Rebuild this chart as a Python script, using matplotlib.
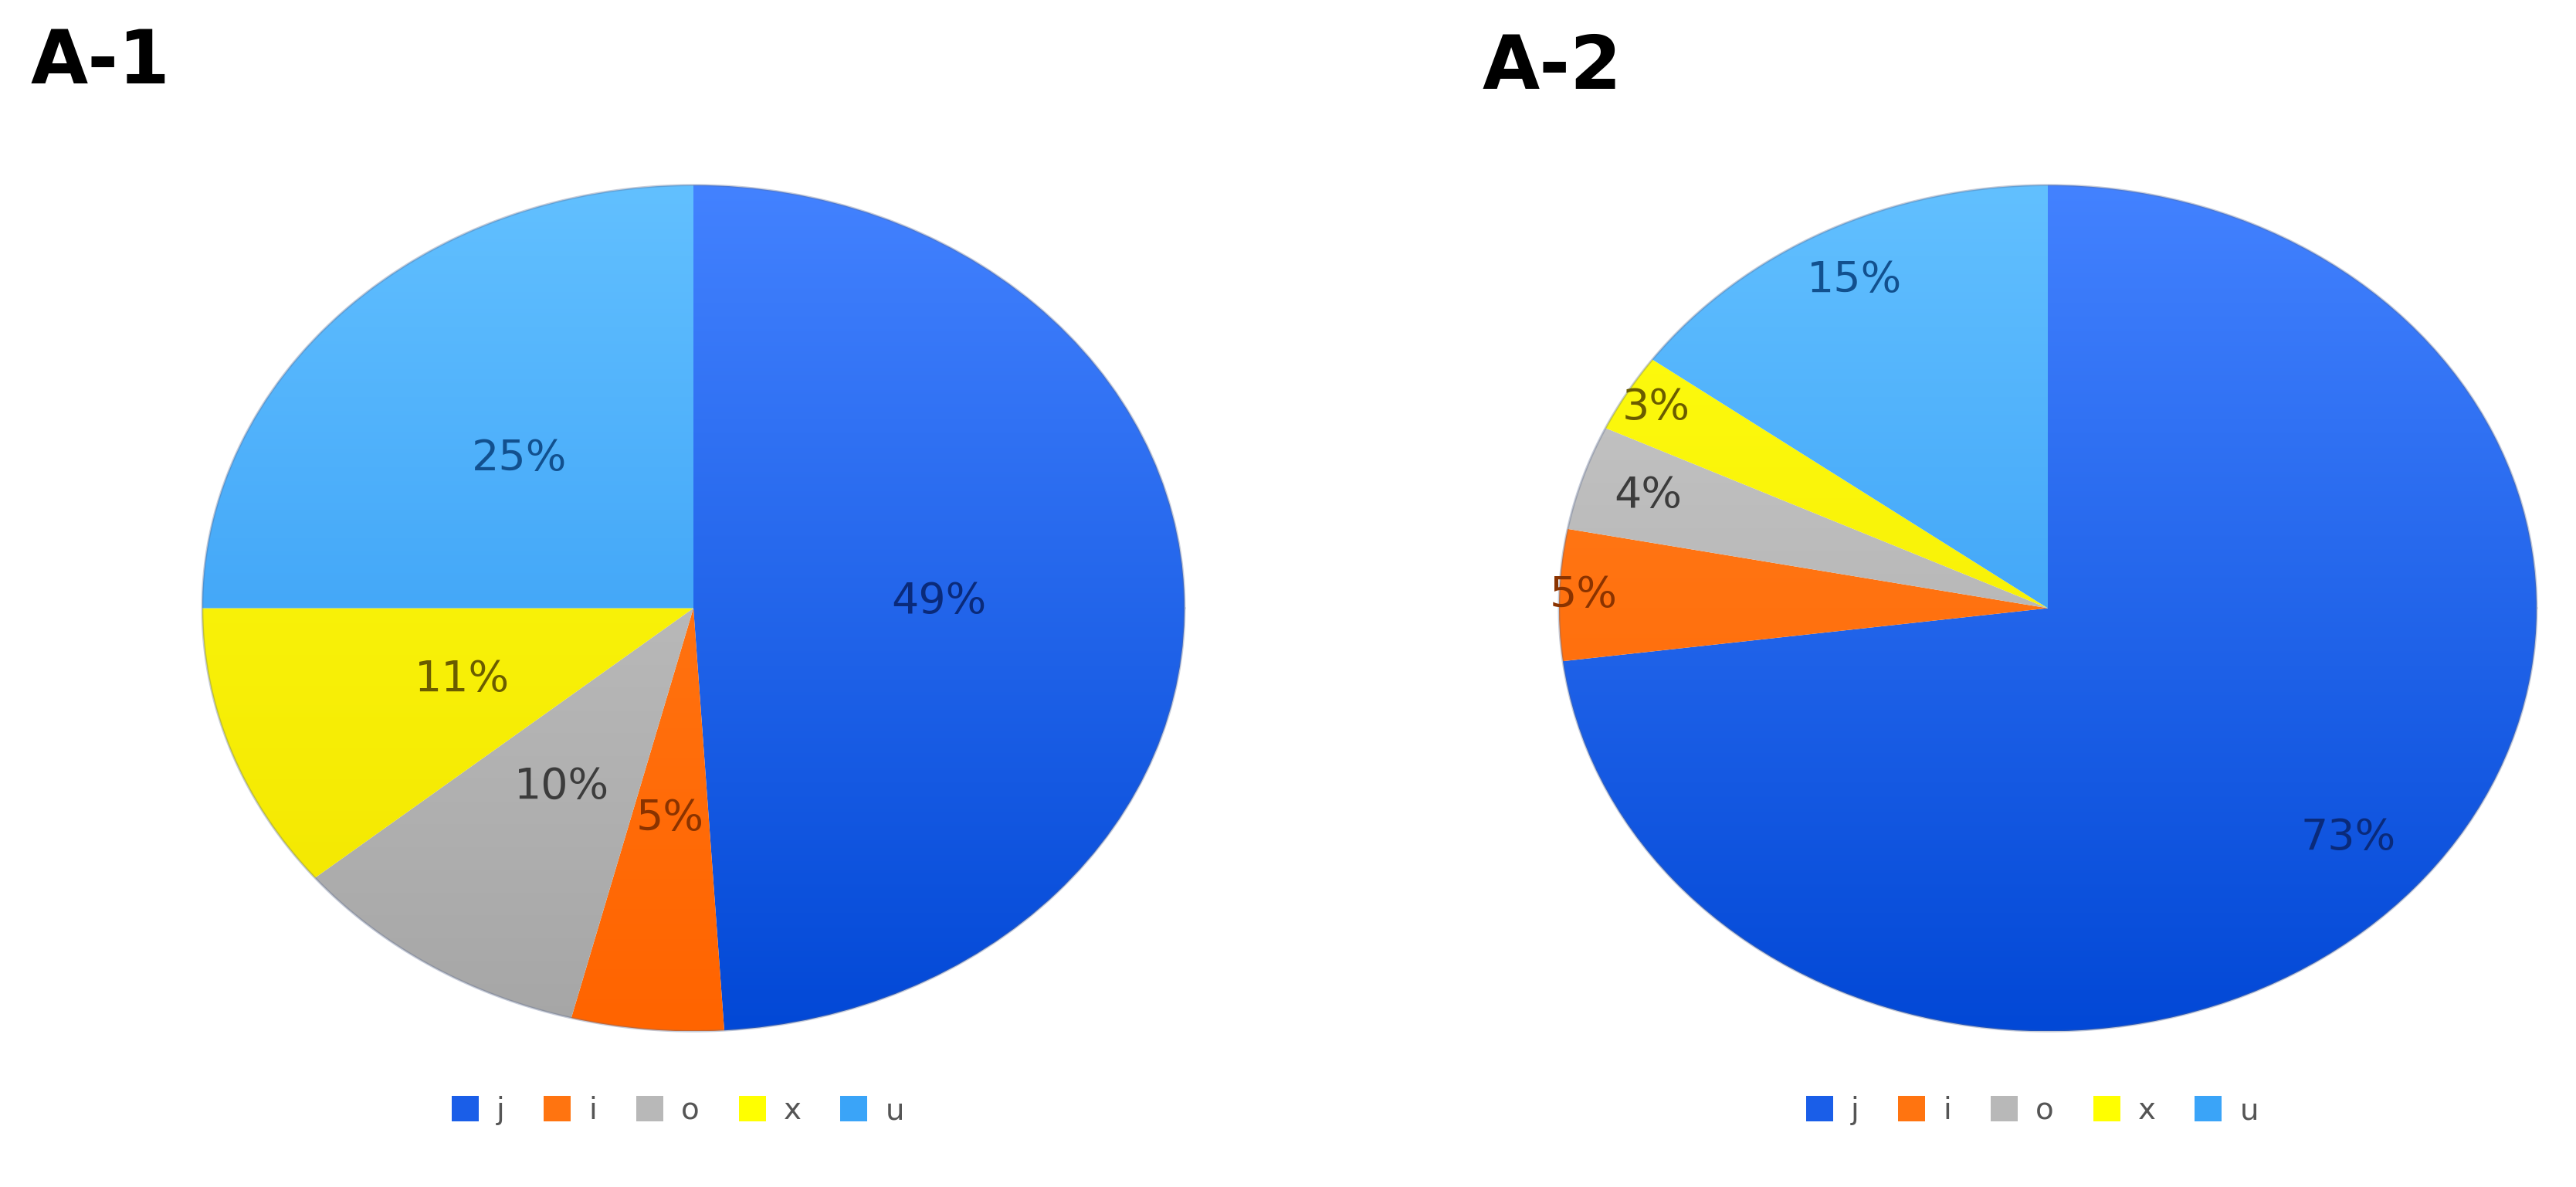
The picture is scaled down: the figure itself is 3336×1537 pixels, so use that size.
import numpy as np
import matplotlib
matplotlib.use("Agg")
import matplotlib.pyplot as plt
from matplotlib.patches import Patch
from matplotlib.colors import to_rgba

# ---- data ----
categories = ["j", "i", "o", "x", "u"]
titles = ["A-1", "A-2"]
values_a1 = [49, 5, 10, 11, 25]
values_a2 = [73, 5, 4, 3, 15]

# ---- style ----
top_colors = ["#4382ff", "#ff8020", "#cbcbcb", "#ffff10", "#62c0ff"]
bot_colors = ["#0248d6", "#ff6400", "#a6a6a6", "#f2e400", "#2690f2"]
legend_colors = ["#1a5ee8", "#ff7410", "#b8b8b8", "#ffff00", "#3aa4f8"]
label_colors = ["#0a2a7a", "#8a3300", "#3c3c3c", "#6a5c00", "#12508e"]
label_radii = [[0.5, 0.5, 0.5, 0.5, 0.5],
               [0.82, 0.95, 0.86, 0.93, 0.87]]

W, H = 3336, 1537
fig = plt.figure(figsize=(W / 100, H / 100), dpi=100)
fig.patch.set_facecolor("white")

axes_boxes = [
    (260 / W, 1 - 1337 / H, 1276 / W, 1099 / H),
    (2017 / W, 1 - 1337 / H, 1270 / W, 1099 / H),
]
title_pos = [(40 / W, 1 - 108 / H), (1920 / W, 1 - 115 / H)]


def gradient_image(c_top, c_bot, n=256):
    t = np.linspace(0, 1, n)[:, None]
    a = np.array(to_rgba(c_top))
    b = np.array(to_rgba(c_bot))
    img = a[None, :] * (1 - t) + b[None, :] * t
    return img[:, None, :]


for k, vals in enumerate([values_a1, values_a2]):
    ax = fig.add_axes(axes_boxes[k])
    wedges, _ = ax.pie(vals, startangle=90, counterclock=False, radius=1,
                       wedgeprops=dict(linewidth=0))
    for i, w in enumerate(wedges):
        w.set_facecolor("none")
        im = ax.imshow(gradient_image(top_colors[i], bot_colors[i]),
                       extent=(-1, 1, -1, 1), aspect="auto", zorder=1,
                       interpolation="bilinear")
        im.set_clip_path(w)
        mid = np.deg2rad((w.theta1 + w.theta2) / 2)
        r = label_radii[k][i]
        ax.text(r * np.cos(mid), r * np.sin(mid), f"{vals[i]}%",
                ha="center", va="center", fontsize=40,
                color=label_colors[i], zorder=5)
    # subtle outer rim
    theta = np.linspace(0, 2 * np.pi, 400)
    ax.plot(np.cos(theta), np.sin(theta), color="#5a6a90", lw=2.0,
            alpha=0.35, zorder=4)
    ax.set_xlim(-1.003, 1.003)
    ax.set_ylim(-1.003, 1.003)
    ax.set_aspect("auto")
    ax.axis("off")

    fig.text(title_pos[k][0], title_pos[k][1], titles[k], fontsize=69,
             fontweight="bold", color="black", ha="left", va="baseline")

    handles = [Patch(facecolor=c, edgecolor="none") for c in legend_colors]
    cx = axes_boxes[k][0] + axes_boxes[k][2] / 2
    fig.legend(handles, categories, loc="center", ncol=5,
               bbox_to_anchor=(cx - 0.006, 1 - 1438 / H), frameon=False,
               fontsize=28, handlelength=0.9, handleheight=0.9,
               handletextpad=0.6, columnspacing=1.3, labelcolor="#555555")

fig.savefig("out.png", dpi=100, facecolor="white")
